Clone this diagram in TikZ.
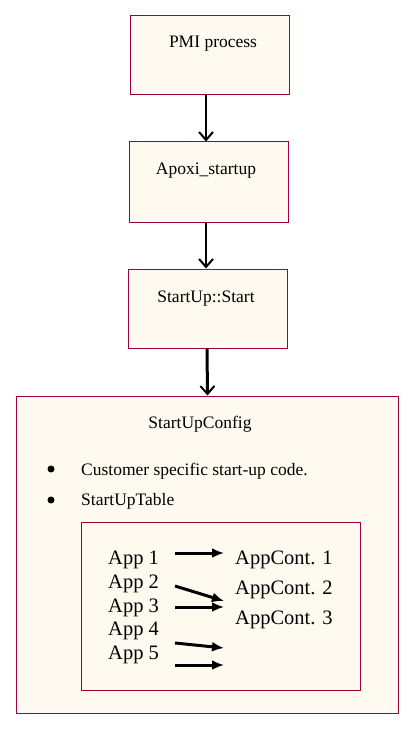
\documentclass[tikz,border=0pt]{standalone}
\usepackage{fontspec}
\setmainfont{Liberation Serif}
\usetikzlibrary{arrows.meta}
\definecolor{bordc}{RGB}{160,0,64}
\definecolor{fillc}{RGB}{255,250,240}
\tikzset{
  box/.style={draw=bordc, fill=fillc, line width=1pt, inner sep=0pt},
  ttl/.style={font=\fontsize{17.5}{20}\selectfont, anchor=base, inner sep=0pt},
  itm/.style={font=\fontsize{17.5}{20}\selectfont, anchor=base west, inner sep=0pt},
  app/.style={font=\fontsize{20.5}{24}\selectfont, anchor=base west, inner sep=0pt},
  varr/.style={line width=2pt, -{Straight Barb[length=8pt,width=14pt,line width=2pt]}},
  varrb/.style={line width=3pt, -{Straight Barb[length=8pt,width=14pt,line width=2pt]}},
  harr/.style={line width=3pt, -{Latex[length=12pt,width=10pt]}},
  bul/.style={circle, fill=black, inner sep=0pt, minimum size=7pt}
}
\begin{document}
\begin{tikzpicture}[x=1pt,y=-1pt]
\useasboundingbox (0,0) rectangle (413,730);
% boxes
\node[box, minimum width=159pt, minimum height=79pt] (b1) at (209.5,55.5) {};
\node[box, minimum width=159pt, minimum height=80pt] (b2) at (208.5,182) {};
\node[box, minimum width=159pt, minimum height=79pt] (b3) at (207.5,308.5) {};
\node[box, minimum width=382pt, minimum height=317pt] (b4) at (207,554.5) {};
\node[box, minimum width=279pt, minimum height=168pt] (b5) at (220.5,606) {};
% titles
\node[ttl] (t1) at (213,48) {PMI process};
\node[ttl] (t2) at (206,175) {Apoxi\_startup};
\node[ttl] (t3) at (206,302) {StartUp::Start};
\node[ttl] (t4) at (200,428) {StartUpConfig};
% bullets
\node[bul] (d1) at (51,469) {};
\node[bul] (d2) at (51,500) {};
\node[itm] (i1) at (81,475) {Customer specific start-up code.};
\node[itm] (i2) at (81,505) {StartUpTable};
% apps
\node[app] (a1) at (108,564) {App 1};
\node[app] (a2) at (108,588) {App 2};
\node[app] (a3) at (108,612) {App 3};
\node[app] (a4) at (108,635) {App 4};
\node[app] (a5) at (108,659) {App 5};
\node[app] (c1) at (235,564) {AppCont. 1};
\node[app] (c2) at (235,594) {AppCont. 2};
\node[app] (c3) at (235,624) {AppCont. 3};
% vertical arrows
\draw[varr] ([xshift=-3.5pt]b1.south) -- ([xshift=-2.5pt]b2.north);
\draw[varr] ([xshift=-2.5pt]b2.south) -- ([xshift=-1.5pt]b3.north);
\draw[varrb] ([xshift=-0.5pt]b3.south) -- (b3.south |- b4.north);
% inner arrows
\coordinate (s1) at (175,553); \coordinate (e1) at (224,553);
\coordinate (s2) at (175,586); \coordinate (e2) at (224,601);
\coordinate (s3) at (175,607); \coordinate (e3) at (224,607);
\coordinate (s4) at (175,643); \coordinate (e4) at (224,648);
\coordinate (s5) at (175,665); \coordinate (e5) at (224,665);
\draw[harr] (s1) -- (e1);
\draw[harr] (s2) -- (e2);
\draw[harr] (s3) -- (e3);
\draw[harr] (s4) -- (e4);
\draw[harr] (s5) -- (e5);
\end{tikzpicture}
\end{document}
